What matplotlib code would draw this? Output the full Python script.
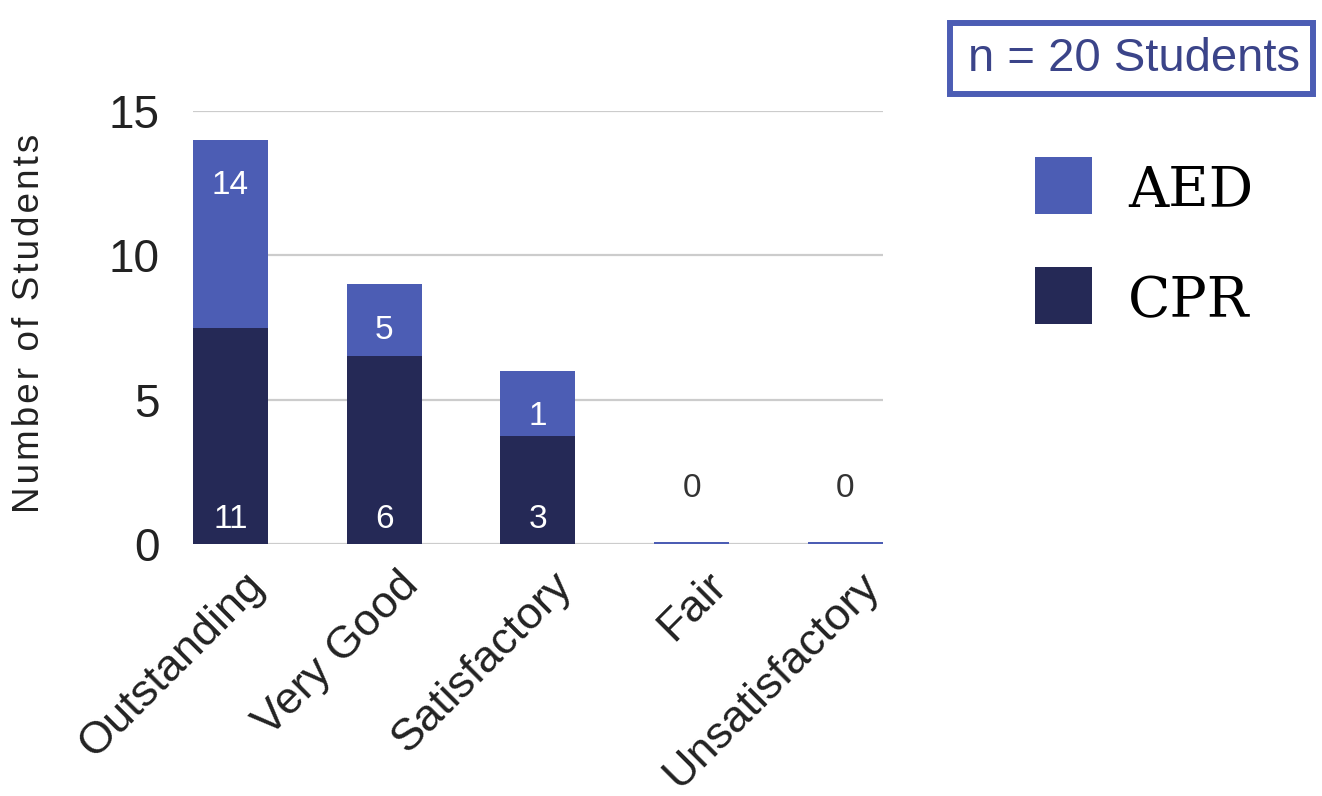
import matplotlib
matplotlib.use("Agg")
import matplotlib.pyplot as plt
from matplotlib.patches import Rectangle
from matplotlib.transforms import ScaledTranslation, blended_transform_factory

categories = ["Outstanding", "Very Good", "Satisfactory", "Fair", "Unsatisfactory"]
aed_heights = [14.0, 9.0, 6.0, 0.06, 0.06]
cpr_heights = [7.5, 6.5, 3.75, 0.0, 0.0]
aed_labels = ["14", "5", "1", "0", "0"]
cpr_labels = ["11", "6", "3", "", ""]
yticks = [0, 5, 10, 15]

AED_C = "#4c5db4"
CPR_C = "#252956"
SANS = ["Liberation Sans", "DejaVu Sans"]

W, H = 1322, 796
fig = plt.figure(figsize=(W / 100, H / 100), dpi=100)
ax = fig.add_axes([193 / W, 1 - 544 / H, (883 - 193) / W, (544 - 111) / H])

x = list(range(len(categories)))
ax.bar(x, aed_heights, width=0.488, color=AED_C, zorder=2)
ax.bar(x, cpr_heights, width=0.488, color=CPR_C, zorder=3)

ax.set_xlim(-0.244, 4.245)
ax.set_ylim(0, 15)
ax.set_yticks(yticks)
ax.set_yticklabels([str(v) for v in yticks], fontsize=33, color="#222222", family=SANS)
ax.tick_params(axis="y", length=0, pad=24)
ax.set_xticks([])
ax.grid(axis="y", color="#cccccc", linewidth=1.6, zorder=0)
ax.set_axisbelow(True)
for s in ax.spines.values():
    s.set_visible(False)

# value labels
for i in x:
    if aed_heights[i] > 1:
        ax.annotate(aed_labels[i], (i, aed_heights[i]), xytext=(0, -33), textcoords="offset points",
                    ha="center", va="center", color="white", fontsize=24, family=SANS, zorder=5)
    else:
        ax.annotate(aed_labels[i], (i, 0), xytext=(0, 40), textcoords="offset points",
                    ha="center", va="center", color="#333333", fontsize=24, family=SANS, zorder=5)
    if cpr_labels[i]:
        ax.annotate(cpr_labels[i], (i, 0), xytext=(0, 18), textcoords="offset points",
                    ha="center", va="center", color="white", fontsize=24, family=SANS, zorder=5)

# rotated category labels
off = ScaledTranslation(28 / 100, -35 / 100, fig.dpi_scale_trans)
trans = blended_transform_factory(ax.transData, ax.transAxes) + off
for i, c in enumerate(categories):
    ax.text(i, 0, c, transform=trans, rotation=45, ha="right", va="center",
            rotation_mode="anchor", fontsize=32.5, color="#222222", family=SANS, clip_on=False)

# y label with letter spacing
fig.text(30 / W, 1 - 323 / H, "\u200a".join("Number of Students"), rotation=90,
         ha="center", va="center", fontsize=26.5, color="#222222", family=SANS)

# n box
fig.add_artist(Rectangle((950 / W, 1 - 94 / H), (1313 - 950) / W, (94 - 23) / H,
                         transform=fig.transFigure, facecolor="white", edgecolor=AED_C,
                         linewidth=4.3))
fig.text(1134 / W, 1 - 59 / H, "n = 20 Students", ha="center", va="center",
         fontsize=34, color="#3b4489", family=SANS)

# legend
legend_items = [("AED", AED_C, 157), ("CPR", CPR_C, 267)]
for name, col, ytop in legend_items:
    fig.add_artist(Rectangle((1035 / W, 1 - (ytop + 57) / H), 57 / W, 57 / H,
                             transform=fig.transFigure, facecolor=col, edgecolor="none"))
    fig.text(1128 / W, 1 - (ytop + 35) / H, name, ha="left", va="center",
             fontsize=40, color="black", family=["DejaVu Serif"])

fig.savefig("out.png", dpi=100, facecolor="white")
